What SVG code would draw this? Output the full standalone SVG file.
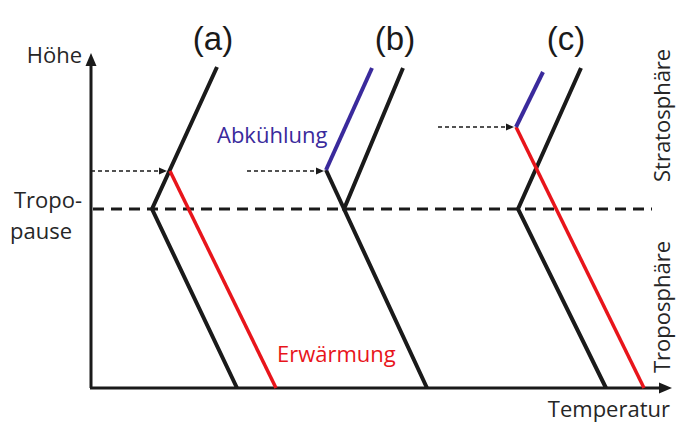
<svg xmlns="http://www.w3.org/2000/svg" width="676" height="425" viewBox="0 0 676 425">
<style>
.t{font-family:"Open Sans","Liberation Sans",sans-serif;font-size:22px;fill:#262626}
.lab{font-family:"Liberation Sans",Arial,sans-serif;font-size:33px;fill:#1a1a1a;text-anchor:middle}
.blk{stroke:#1a1a1a;stroke-width:4;fill:none;stroke-linejoin:miter}
.red{stroke:#e8151b;stroke-width:3.5;fill:none}
.blu{stroke:#3a2a9c;stroke-width:4;fill:none}
.ax{stroke:#1a1a1a;stroke-width:3;fill:none}
.dsh{stroke:#1a1a1a;stroke-width:1.6;stroke-dasharray:4 3;fill:none}
</style>
<defs>
<marker id="ah" markerWidth="8" markerHeight="8" refX="7" refY="4" orient="auto" markerUnits="userSpaceOnUse">
<path d="M0,0.5 L8,4 L0,7.5 Z" fill="#1a1a1a"/>
</marker>
</defs>
<rect width="676" height="425" fill="#ffffff"/>
<g id="axes">
<line class="ax" x1="91" y1="388" x2="91" y2="62"/>
<path d="M85.5,66 L91,53 L96.5,66 Z" fill="#1a1a1a"/>
<line class="ax" x1="90" y1="388" x2="662" y2="388"/>
<path d="M659,382.5 L672,388 L659,393.5 Z" fill="#1a1a1a"/>
<line x1="93" y1="209" x2="652" y2="209" stroke="#1a1a1a" stroke-width="3" stroke-dasharray="11 7"/>
</g>
<g id="connectors">
<line class="dsh" x1="91" y1="171" x2="166" y2="171" marker-end="url(#ah)"/>
<line class="dsh" x1="247" y1="171" x2="323" y2="171" marker-end="url(#ah)"/>
<line class="dsh" x1="438" y1="127" x2="513" y2="127" marker-end="url(#ah)"/>
</g>
<g id="profile-a">
<polyline class="blk" points="217,67 152,209 237,388"/>
<line class="red" x1="170" y1="171" x2="276" y2="388"/>
</g>
<g id="profile-b">
<polyline class="blk" points="403,68 344,209 427,388"/>
<line class="blk" x1="326" y1="170" x2="345" y2="211"/>
<line class="blu" x1="326" y1="170" x2="372" y2="68"/>
</g>
<g id="profile-c">
<polyline class="blk" points="581,68 518,209 606,388"/>
<line class="red" x1="516" y1="127" x2="644" y2="388"/>
<line class="blu" x1="516" y1="127" x2="543" y2="72"/>
</g>
<g id="labels">
<text class="lab" x="213" y="50">(a)</text>
<text class="lab" x="395" y="50">(b)</text>
<text class="lab" x="566" y="50">(c)</text>
<text class="t" x="82" y="63" text-anchor="end">Höhe</text>
<text class="t" x="82" y="208" text-anchor="end">Tropo-</text>
<text class="t" x="10" y="239">pause</text>
<text class="t" x="217" y="143" style="fill:#3a2a9c">Abkühlung</text>
<text class="t" x="277" y="362" style="fill:#e8151b">Erwärmung</text>
<text class="t" x="670" y="417" text-anchor="end">Temperatur</text>
<text class="t" transform="translate(670,182) rotate(-90)">Stratosphäre</text>
<text class="t" transform="translate(670,373) rotate(-90)">Troposphäre</text>
</g>
</svg>
